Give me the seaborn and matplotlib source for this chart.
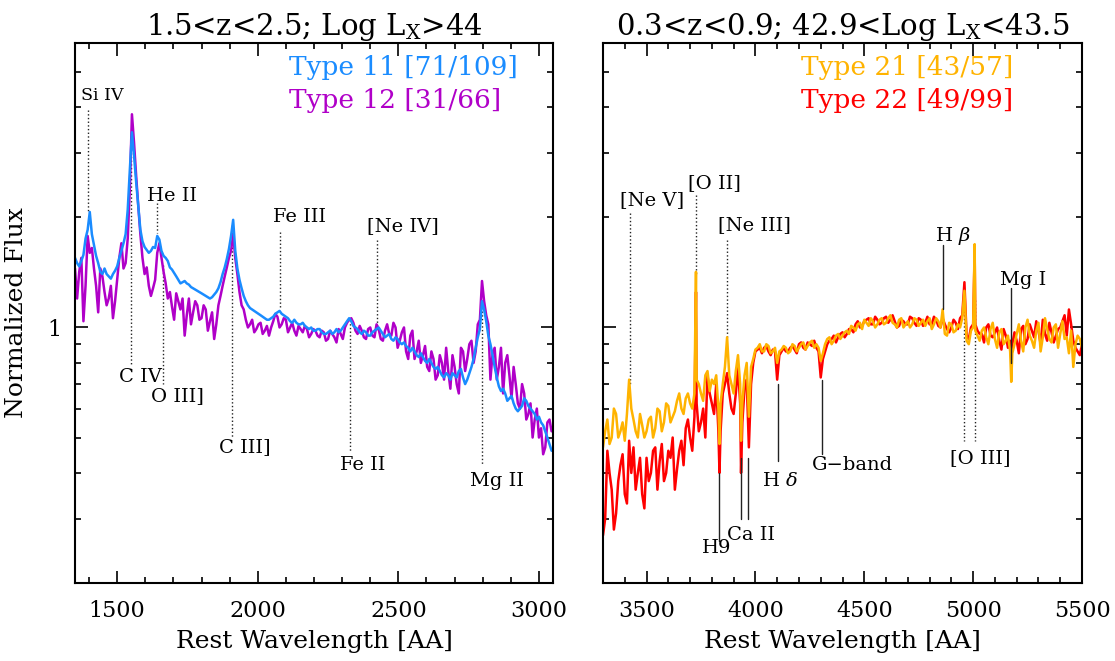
import numpy as np
import pandas as pd
import matplotlib
matplotlib.use("Agg")
import matplotlib.pyplot as plt
import seaborn as sns
from matplotlib.ticker import MultipleLocator, FixedLocator, NullFormatter

# ---------------- data ----------------
# Left panel: Type 11 / Type 12 composite spectra.
# Grid points at 1350 + 15k A, mid points at 1357.5 + 15k A.
WAVE_L_START, WAVE_L_STEP, WAVE_L_MID = 1350, 15, 1357.5
TYPE11 = [
    1.55, 1.47, 1.58, 1.85, 1.80, 1.57, 1.42, 1.45, 1.38, 1.40,   # 1350
    1.47, 1.62, 1.80, 2.70, 2.95, 2.15, 1.72, 1.63, 1.62, 1.65,   # 1500
    1.74, 1.57, 1.52, 1.44, 1.38, 1.32, 1.34, 1.31, 1.28, 1.26,   # 1650
    1.24, 1.22, 1.20, 1.23, 1.28, 1.40, 1.54, 1.78, 1.62, 1.35,   # 1800
    1.22, 1.15, 1.12, 1.10, 1.08, 1.06, 1.05, 1.07, 1.10, 1.09,   # 1950
    1.07, 1.04, 1.05, 1.02, 1.03, 1.00, 1.00, 0.98, 0.99, 0.96,   # 2100
    0.97, 0.96, 0.99, 0.98, 1.02, 1.06, 1.01, 0.99, 0.96, 0.97,   # 2250
    0.95, 0.98, 1.00, 0.96, 0.95, 0.93, 0.94, 0.91, 0.91, 0.88,   # 2400
    0.88, 0.84, 0.85, 0.81, 0.82, 0.78, 0.78, 0.74, 0.75, 0.72,   # 2550
    0.74, 0.76, 0.73, 0.72, 0.78, 0.88, 0.99, 1.12, 0.95, 0.84,   # 2700
    0.73, 0.67, 0.66, 0.64, 0.62, 0.59, 0.61, 0.63, 0.60, 0.58,   # 2850
    0.57, 0.54, 0.50, 0.46,                                       # 3000
]
TYPE11_MID = [
    1.50, 1.52, 1.75, 2.07, 1.68, 1.50, 1.40, 1.40, 1.36, 1.43,   # 1357.5
    1.55, 1.70, 2.10, 3.42, 2.50, 1.85, 1.66, 1.60, 1.66, 1.78,   # 1507.5
    1.62, 1.55, 1.46, 1.41, 1.35, 1.33, 1.32, 1.29, 1.27, 1.25,   # 1657.5
    1.23, 1.21, 1.21, 1.25, 1.33, 1.46, 1.64, 1.97, 1.45, 1.28,   # 1807.5
    1.18, 1.13, 1.11, 1.09, 1.07, 1.05, 1.06, 1.09, 1.11, 1.08,   # 1957.5
    1.06, 1.03, 1.03, 1.02, 1.01, 0.99, 0.98, 0.99, 0.97, 0.96,   # 2107.5
    0.98, 0.97, 0.97, 1.00, 1.04, 1.04, 1.00, 0.97, 0.98, 0.95,   # 2257.5
    0.97, 0.99, 0.98, 0.94, 0.96, 0.92, 0.93, 0.90, 0.89, 0.86,   # 2407.5
    0.86, 0.83, 0.83, 0.80, 0.80, 0.77, 0.76, 0.73, 0.74, 0.75,   # 2557.5
    0.73, 0.77, 0.70, 0.75, 0.82, 0.94, 1.18, 1.04, 0.90, 0.78,   # 2707.5
    0.69, 0.68, 0.63, 0.65, 0.60, 0.60, 0.64, 0.61, 0.59, 0.56,   # 2857.5
    0.55, 0.52, 0.48,                                             # 3007.5
]
TYPE12 = [
    1.45, 1.42, 1.04, 1.78, 1.65, 1.30, 1.45, 1.25, 1.20, 1.06,   # 1350
    1.35, 1.70, 1.50, 2.40, 3.20, 2.15, 1.55, 1.46, 1.22, 1.35,   # 1500
    1.70, 1.42, 1.20, 1.14, 1.24, 1.12, 0.95, 1.20, 1.10, 1.15,   # 1650
    1.06, 1.12, 1.04, 0.93, 1.15, 1.30, 1.46, 1.62, 1.55, 1.25,   # 1800
    1.12, 1.00, 1.05, 0.99, 1.03, 0.98, 0.95, 1.04, 1.07, 1.02,   # 1950
    1.05, 1.00, 0.98, 1.01, 0.97, 0.99, 0.96, 0.98, 0.94, 0.97,   # 2100
    0.93, 0.96, 0.91, 0.96, 1.00, 1.05, 1.03, 0.96, 0.98, 0.93,   # 2250
    1.00, 0.94, 0.99, 0.92, 1.02, 0.95, 1.00, 0.92, 1.00, 0.82,   # 2400
    0.98, 0.86, 0.80, 0.89, 0.76, 0.82, 0.74, 0.80, 0.88, 0.68,   # 2550
    0.78, 0.66, 0.86, 0.82, 0.92, 0.86, 1.05, 1.18, 1.02, 0.85,   # 2700
    0.72, 0.88, 0.80, 0.74, 0.78, 0.62, 0.70, 0.56, 0.62, 0.56,   # 2850
    0.50, 0.45, 0.55, 0.52,                                       # 3000
]
TYPE12_MID = [
    1.20, 1.55, 1.30, 1.60, 1.45, 1.10, 1.38, 1.15, 1.30, 1.18,   # 1357.5
    1.55, 1.45, 1.75, 3.83, 2.60, 1.80, 1.40, 1.30, 1.28, 1.60,   # 1507.5
    1.55, 1.32, 1.25, 1.05, 1.18, 1.20, 1.08, 1.02, 1.18, 1.05,   # 1657.5
    1.15, 0.98, 1.10, 1.02, 1.22, 1.38, 1.55, 1.80, 1.40, 1.15,   # 1807.5
    1.05, 1.02, 0.97, 1.02, 0.96, 1.01, 1.00, 1.09, 1.00, 1.06,   # 1957.5
    0.97, 1.03, 0.95, 0.99, 1.01, 0.94, 0.99, 0.95, 0.98, 0.92,   # 2107.5
    0.98, 0.94, 0.99, 0.93, 1.03, 1.06, 0.98, 1.01, 0.94, 0.99,   # 2257.5
    0.95, 1.02, 0.93, 0.98, 0.96, 1.03, 0.88, 0.97, 0.86, 0.95,   # 2407.5
    0.82, 0.92, 0.84, 0.78, 0.86, 0.72, 0.84, 0.72, 0.76, 0.84,   # 2557.5
    0.70, 0.88, 0.76, 0.90, 0.80, 1.02, 1.34, 1.08, 0.72, 0.88,   # 2707.5
    0.78, 0.66, 0.84, 0.64, 0.70, 0.60, 0.66, 0.58, 0.50, 0.60,   # 2857.5
    0.53, 0.47, 0.56,                                             # 3007.5
]

# Right panel: Type 21 / Type 22 composite spectra.
# Grid points at 3300 + 20k A, mid points at 3310 + 20k A, plus narrow features.
WAVE_R_START, WAVE_R_STEP, WAVE_R_MID = 3300, 20, 3310
TYPE21 = [
    0.47, 0.56, 0.50, 0.58, 0.52, 0.49, 0.72, 0.56, 0.50, 0.54,   # 3300
    0.52, 0.57, 0.53, 0.59, 0.55, 0.61, 0.57, 0.63, 0.60, 0.64,   # 3500
    0.62, 0.66, 0.70, 0.63, 0.76, 0.72, 0.74, 0.62, 0.78, 0.74,   # 3700
    0.66, 0.84, 0.62, 0.80, 0.78, 0.87, 0.90, 0.86, 0.89, 0.86,   # 3900
    0.80, 0.87, 0.88, 0.86, 0.89, 0.88, 0.91, 0.89, 0.92, 0.90,   # 4100
    0.81, 0.90, 0.94, 0.92, 0.96, 0.95, 0.98, 1.01, 0.98, 1.03,   # 4300
    1.05, 1.01, 1.04, 1.02, 1.06, 1.03, 1.08, 1.02, 1.05, 1.00,   # 4500
    1.04, 1.02, 1.05, 1.03, 1.01, 1.06, 1.02, 1.04, 1.12, 0.95,   # 4700
    1.02, 0.98, 1.00, 1.26, 0.90, 1.00, 0.95, 0.98, 0.94, 0.99,   # 4900
    0.93, 0.97, 0.90, 0.95, 0.85, 0.96, 0.92, 1.00, 0.95, 0.88,   # 5100
    1.03, 0.94, 0.99, 0.91, 1.02, 0.96, 0.93, 0.85, 0.78, 0.95,   # 5300
    0.88,                                                         # 5500
]
TYPE21_MID = [
    0.52, 0.48, 0.60, 0.50, 0.55, 0.58, 0.60, 0.52, 0.58, 0.50,   # 3310
    0.56, 0.50, 0.60, 0.52, 0.62, 0.55, 0.59, 0.66, 0.58, 0.66,   # 3510
    0.60, 0.72, 0.66, 0.74, 0.67, 0.70, 0.60, 0.70, 0.94, 0.70,   # 3710
    0.76, 0.70, 0.74, 0.57, 0.82, 0.88, 0.86, 0.90, 0.85, 0.88,   # 3910
    0.86, 0.89, 0.85, 0.90, 0.86, 0.90, 0.87, 0.91, 0.88, 0.88,   # 4110
    0.85, 0.93, 0.90, 0.95, 0.93, 0.97, 0.96, 1.00, 1.02, 0.99,   # 4310
    1.03, 1.06, 1.00, 1.05, 1.02, 1.06, 1.03, 1.00, 1.06, 1.02,   # 4510
    1.00, 1.06, 1.01, 1.05, 1.04, 0.99, 1.06, 1.00, 0.96, 1.03,   # 4710
    0.97, 1.02, 1.06, 0.92, 0.98, 0.98, 0.92, 1.00, 0.90, 1.03,   # 4910
    0.88, 0.99, 0.92, 0.86, 0.90, 1.02, 0.86, 1.05, 0.92, 0.98,   # 5110
    0.86, 1.06, 0.93, 1.00, 0.88, 1.04, 0.94, 0.98, 0.90, 0.93,   # 5310
]
TYPE22 = [
    0.27, 0.46, 0.36, 0.31, 0.42, 0.35, 0.49, 0.47, 0.40, 0.35,   # 3300
    0.44, 0.40, 0.47, 0.43, 0.38, 0.46, 0.50, 0.41, 0.49, 0.53,   # 3500
    0.50, 0.57, 0.52, 0.60, 0.74, 0.62, 0.70, 0.52, 0.70, 0.66,   # 3700
    0.58, 0.78, 0.55, 0.72, 0.70, 0.86, 0.88, 0.88, 0.86, 0.87,   # 3900
    0.72, 0.86, 0.86, 0.88, 0.87, 0.90, 0.88, 0.91, 0.89, 0.88,   # 4100
    0.73, 0.86, 0.92, 0.95, 0.94, 0.97, 0.96, 0.99, 1.02, 1.00,   # 4300
    1.04, 1.06, 1.02, 1.05, 1.03, 1.07, 1.05, 1.04, 1.01, 1.04,   # 4500
    1.02, 1.06, 1.01, 1.05, 1.03, 1.02, 1.07, 1.01, 1.06, 0.99,   # 4700
    1.00, 1.03, 1.06, 1.33, 0.93, 1.02, 0.98, 0.96, 1.00, 0.95,   # 4900
    0.97, 0.92, 0.99, 0.88, 0.90, 0.92, 0.99, 0.90, 1.02, 0.94,   # 5100
    0.98, 1.05, 0.92, 0.97, 0.95, 1.00, 1.08, 1.12, 0.92, 0.86,   # 5300
    0.90,                                                         # 5500
]
TYPE22_MID = [
    0.30, 0.40, 0.28, 0.38, 0.45, 0.33, 0.40, 0.36, 0.44, 0.32,   # 3310
    0.38, 0.46, 0.36, 0.48, 0.40, 0.44, 0.36, 0.46, 0.42, 0.56,   # 3510
    0.46, 0.62, 0.55, 0.50, 0.66, 0.58, 0.52, 0.66, 0.75, 0.60,   # 3710
    0.66, 0.62, 0.68, 0.47, 0.80, 0.87, 0.85, 0.89, 0.84, 0.86,   # 3910
    0.84, 0.88, 0.86, 0.89, 0.85, 0.91, 0.87, 0.90, 0.92, 0.86,   # 4110
    0.82, 0.90, 0.93, 0.91, 0.96, 0.94, 0.99, 0.97, 1.04, 1.01,   # 4310
    1.05, 1.02, 1.07, 1.02, 1.06, 1.03, 1.08, 1.00, 1.05, 1.02,   # 4510
    1.07, 1.03, 1.06, 1.01, 1.07, 1.02, 1.05, 1.00, 1.02, 0.97,   # 4710
    1.05, 0.99, 1.08, 0.95, 1.00, 1.02, 0.96, 0.91, 1.02, 0.94,   # 4910
    1.00, 0.87, 0.95, 0.92, 0.97, 0.85, 1.01, 0.93, 0.98, 1.04,   # 5110
    0.90, 0.96, 1.03, 0.91, 0.99, 1.04, 0.95, 1.02, 0.88, 0.84,   # 5310
]
PEAK_WAVE_R = [3727, 3835, 3934, 5007, 5175]
PEAK_TYPE21 = [1.42, 0.48, 0.49, 1.69, 0.71]
PEAK_TYPE22 = [1.25, 0.40, 0.40, 1.61, 0.82]

LEGEND_L = ["Type 11 [71/109]", "Type 12 [31/66]"]
LEGEND_R = ["Type 21 [43/57]", "Type 22 [49/99]"]
TITLE_L = r"1.5<z<2.5; Log L$_\mathrm{X}$>44"
TITLE_R = r"0.3<z<0.9; 42.9<Log L$_\mathrm{X}$<43.5"
XLABEL = "Rest Wavelength [AA]"
YLABEL = "Normalized Flux"

# spectral line markers: label, wavelength, marker top, marker bottom, label x, label y, size
LINES_L = [
    ("Si IV", 1397, 3.93, 2.06, 1446, 4.30, 12.5),
    ("C IV", 1549, 3.30, 0.79, 1581, 0.73, 14),
    ("He II", 1640, 2.19, 1.81, 1695, 2.29, 14),
    ("O III]", 1663, 1.48, 0.70, 1716, 0.65, 14),
    ("C III]", 1909, 1.91, 0.50, 1955, 0.47, 14),
    ("Fe III", 2080, 1.82, 1.12, 2147, 2.00, 14),
    ("[Ne IV]", 2424, 1.73, 0.98, 2516, 1.90, 14),
    ("Fe II", 2328, 1.05, 0.46, 2374, 0.42, 14),
    ("Mg II", 2798, 1.19, 0.42, 2851, 0.38, 14),
]
# label, wavelengths, top, bottom, label x, label y, style
LINES_R = [
    ("[Ne V]", [3426], 2.06, 0.70, 3525, 2.23, ":"),
    ("[O II]", [3727], 2.30, 1.39, 3814, 2.48, ":"),
    ("[Ne III]", [3869], 1.73, 0.94, 3994, 1.91, ":"),
    ("H9", [3835], 0.40, 0.26, 3824, 0.25, "-"),
    ("Ca II", [3934, 3968], 0.44, 0.30, 3981, 0.27, "-"),
    (r"H $\delta$", [4102], 0.70, 0.43, 4113, 0.38, "-"),
    ("G\u2212band", [4304], 0.72, 0.45, 4444, 0.42, "-"),
    (r"H $\beta$", [4861], 1.68, 1.12, 4908, 1.78, "-"),
    ("[O III]", [4959, 5007], 1.19, 0.49, 5032, 0.44, ":"),
    ("Mg I", [5175], 1.28, 0.80, 5229, 1.35, "-"),
]

BLUE, PURPLE = "#1a8cff", "#b000c8"
GOLD, RED = "#ffb300", "#ff0000"

# ---------------- style ----------------
sns.set_style("ticks")
plt.rcParams["font.family"] = ["DejaVu Serif"]
plt.rcParams["mathtext.fontset"] = "dejavuserif"
for key in ("text.color", "axes.labelcolor", "xtick.color", "ytick.color",
            "axes.edgecolor"):
    plt.rcParams[key] = "black"


def spectrum_frame(parts, name):
    w = np.concatenate([np.asarray(a, float) for a, _ in parts])
    f = np.concatenate([np.asarray(b, float) for _, b in parts])
    order = np.argsort(w, kind="stable")
    return pd.DataFrame({"wave": w[order], "flux": f[order], "type": name})


def grid(start, step, vals):
    return start + step * np.arange(len(vals))


dfL = pd.concat([
    spectrum_frame([(grid(WAVE_L_START, WAVE_L_STEP, TYPE12), TYPE12),
                    (grid(WAVE_L_MID, WAVE_L_STEP, TYPE12_MID), TYPE12_MID)], "Type 12"),
    spectrum_frame([(grid(WAVE_L_START, WAVE_L_STEP, TYPE11), TYPE11),
                    (grid(WAVE_L_MID, WAVE_L_STEP, TYPE11_MID), TYPE11_MID)], "Type 11"),
], ignore_index=True)
dfR = pd.concat([
    spectrum_frame([(grid(WAVE_R_START, WAVE_R_STEP, TYPE22), TYPE22),
                    (grid(WAVE_R_MID, WAVE_R_STEP, TYPE22_MID), TYPE22_MID),
                    (PEAK_WAVE_R, PEAK_TYPE22)], "Type 22"),
    spectrum_frame([(grid(WAVE_R_START, WAVE_R_STEP, TYPE21), TYPE21),
                    (grid(WAVE_R_MID, WAVE_R_STEP, TYPE21_MID), TYPE21_MID),
                    (PEAK_WAVE_R, PEAK_TYPE21)], "Type 21"),
], ignore_index=True)

W, H = 1115, 661
fig = plt.figure(figsize=(W / 100, H / 100), dpi=100)
axL = fig.add_axes([75 / W, 78 / H, 478 / W, 540 / H])
axR = fig.add_axes([603 / W, 78 / H, 479 / W, 540 / H])

sns.lineplot(data=dfL, x="wave", y="flux", hue="type", hue_order=["Type 12", "Type 11"],
             palette=[PURPLE, BLUE], estimator=None, sort=False, linewidth=1.8,
             legend=False, ax=axL)
sns.lineplot(data=dfR, x="wave", y="flux", hue="type", hue_order=["Type 22", "Type 21"],
             palette=[RED, GOLD], estimator=None, sort=False, linewidth=1.8,
             legend=False, ax=axR)

for ax, xlim in ((axL, (1350, 3050)), (axR, (3300, 5500))):
    ax.set_yscale("log")
    ax.set_ylim(0.2, 6)
    ax.set_xlim(*xlim)
    ax.xaxis.set_major_locator(MultipleLocator(500))
    ax.xaxis.set_minor_locator(MultipleLocator(100))
    ax.yaxis.set_major_locator(FixedLocator([1]))
    ax.yaxis.set_minor_locator(FixedLocator([0.2, 0.3, 0.4, 0.5, 0.6, 0.7, 0.8, 0.9,
                                             2, 3, 4, 5, 6]))
    ax.yaxis.set_minor_formatter(NullFormatter())
    ax.tick_params(which="both", direction="in", top=True, right=True, width=1.2,
                   labelsize=16, color="black", labelcolor="black")
    ax.tick_params(which="major", length=9)
    ax.tick_params(which="minor", length=4.5)
    ax.tick_params(axis="x", pad=12)
    for sp in ax.spines.values():
        sp.set_linewidth(1.5)
        sp.set_color("black")
    ax.set_xlabel(XLABEL, fontsize=18, labelpad=6)
    ax.set_ylabel("")

axL.set_yticklabels(["1"])
axL.tick_params(axis="y", pad=10)
axR.set_yticklabels([])
axL.set_ylabel(YLABEL, fontsize=18, labelpad=14)

axL.set_title(TITLE_L, fontsize=21, pad=6)
axR.set_title(TITLE_R, fontsize=21, pad=6)

axL.text(0.448, 0.954, LEGEND_L[0], color=BLUE, fontsize=19, ha="left", va="center",
         transform=axL.transAxes)
axL.text(0.448, 0.893, LEGEND_L[1], color=PURPLE, fontsize=19, ha="left", va="center",
         transform=axL.transAxes)
axR.text(0.413, 0.954, LEGEND_R[0], color=GOLD, fontsize=19, ha="left", va="center",
         transform=axR.transAxes)
axR.text(0.413, 0.893, LEGEND_R[1], color=RED, fontsize=19, ha="left", va="center",
         transform=axR.transAxes)

for lab, w, y0, y1, tx, ty, fs in LINES_L:
    axL.plot([w, w], [y0, y1], ls=":", color="#222222", lw=1.0, zorder=1)
    axL.text(tx, ty, lab, ha="center", va="center", fontsize=fs)

for lab, ws, y0, y1, tx, ty, style in LINES_R:
    for w in ws:
        axR.plot([w, w], [y0, y1], ls=style, color="#222222", lw=1.0,
                 zorder=1 if style == ":" else 3)
    axR.text(tx, ty, lab, ha="center", va="center", fontsize=14)

fig.savefig("out.png", dpi=100)
